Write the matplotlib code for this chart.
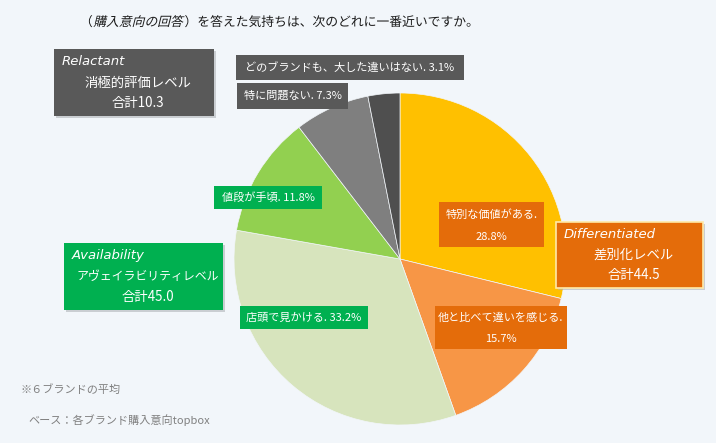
import matplotlib.pyplot as plt
from matplotlib.textpath import TextPath
from matplotlib.patches import PathPatch
from matplotlib.font_manager import FontProperties
from matplotlib.transforms import Affine2D

plt.rcParams['font.family'] = ['Noto Sans CJK JP', 'DejaVu Sans']

# slices, clockwise from 12 o'clock
labels = ['特別な価値がある', '他と比べて違いを感じる', '店頭で見かける',
          '値段が手頃', '特に問題ない', 'どのブランドも、大した違いはない']
values = [28.8, 15.7, 33.2, 11.8, 7.3, 3.1]
colors = ['#FFC000', '#F79646', '#D7E4BD', '#92D050', '#7F7F7F', '#4F4F4F']

group_en = ['Relactant', 'Differentiated', 'Availability']
group_jp = ['消極的評価レベル', '差別化レベル', 'アヴェイラビリティレベル']
group_total = [10.3, 44.5, 45.0]

title_pre = '（'
title_it = '購入意向の回答'
title_post = '）を答えた気持ちは、次のどれに一番近いですか。'

BG = '#F2F6FA'
W, H = 716, 443

fig = plt.figure(figsize=(W / 100, H / 100), dpi=100, facecolor=BG)
ax = fig.add_axes([0, 0, 1, 1])
ax.set_xlim(0, W)
ax.set_ylim(0, H)
ax.set_aspect('equal')
ax.axis('off')


def py(y):
    # pixel row -> data y
    return H - y


ax.pie(values, colors=colors, startangle=90, counterclock=False,
       center=(400, py(259)), radius=166,
       wedgeprops=dict(edgecolor=BG, linewidth=0.5))
ax.set_xlim(0, W)
ax.set_ylim(0, H)


def box(x0, y0, x1, y1, fc, shadow=False, ec='none'):
    if shadow:
        ax.add_patch(plt.Rectangle((x0 + 2, py(y1) - 2), x1 - x0, y1 - y0,
                                   fc='#B0B4B8', ec='none', alpha=0.6, zorder=3))
    ax.add_patch(plt.Rectangle((x0, py(y1)), x1 - x0, y1 - y0,
                               fc=fc, ec=ec, lw=1.2, zorder=4))


def slice_label(x0, y0, x1, y1, fc, lines, size=8):
    box(x0, y0, x1, y1, fc)
    cx = (x0 + x1) / 2
    if len(lines) == 1:
        ax.text(cx, py((y0 + y1) / 2), lines[0], color='white', fontsize=size,
                ha='center', va='center', zorder=5)
    else:
        h = (y1 - y0) / 2
        ax.text(cx, py(y0 + h * 0.5 + 1), lines[0], color='white', fontsize=size,
                ha='center', va='center', zorder=5)
        ax.text(cx, py(y0 + h * 1.5 + 1), lines[1], color='white', fontsize=size,
                ha='center', va='center', zorder=5)


def pct(i):
    return '%.1f%%' % values[i]


slice_label(439, 202, 544, 247, '#E46C0A', [labels[0] + '.', pct(0)])
slice_label(435, 306, 567, 349, '#E46C0A', [labels[1] + '.', pct(1)])
slice_label(240, 306, 368, 329, '#00B050', [labels[2] + '. ' + pct(2)])
slice_label(214, 186, 322, 209, '#00B050', [labels[3] + '. ' + pct(3)])
slice_label(237, 83, 348, 109, '#595959', [labels[4] + '. ' + pct(4)])
slice_label(236, 55, 464, 80, '#595959', [labels[5] + '. ' + pct(5)])


def group_box(x0, y0, x1, y1, fc, i, ec='none', jp_size=9.6):
    box(x0, y0, x1, y1, fc, shadow=True, ec=ec)
    h = (y1 - y0) / 3
    ax.text(x0 + 8, py(y0 + h * 0.55), group_en[i], color='white', fontsize=9.5,
            fontstyle='italic', family=['DejaVu Sans'], ha='left', va='center',
            zorder=5)
    cx = (x0 + x1) / 2 + 4
    ax.text(cx, py(y0 + h * 1.5), group_jp[i], color='white', fontsize=jp_size,
            ha='center', va='center', zorder=5)
    ax.text(cx, py(y0 + h * 2.4), '合計%.1f' % group_total[i], color='white',
            fontsize=9.6, ha='center', va='center', zorder=5)


group_box(54, 49, 214, 116, '#595959', 0)
group_box(556, 222, 703, 288, '#E46C0A', 1, ec='#FFE9A8')
group_box(64, 243, 223, 310, '#00B050', 2, jp_size=8.6)

# title, middle part slanted by hand (CJK font has no italic)
ts = 12.8  # px per full-width char
fp = FontProperties(family='Noto Sans CJK JP')
ty = py(26)


def title_part(s, x, skew=0):
    tp = TextPath((0, 0), s, size=ts, prop=fp)
    tr = Affine2D().skew_deg(skew, 0).translate(x, ty) + ax.transData
    ax.add_patch(PathPatch(tp, transform=tr, fc='#1A1A1A', ec='none', zorder=5))
    return x + tp.get_extents().x1


x = title_part(title_pre, 80)
x = title_part(title_it, x + 1, skew=14)
title_part(title_post, x + 2)

ax.text(21, py(390), '※６ブランドの平均', fontsize=8, color='#808080',
        ha='left', va='center')
ax.text(28, py(420), 'ベース：各ブランド購入意向topbox', fontsize=8,
        color='#808080', ha='left', va='center')

fig.savefig('out.png', dpi=100, facecolor=BG)
